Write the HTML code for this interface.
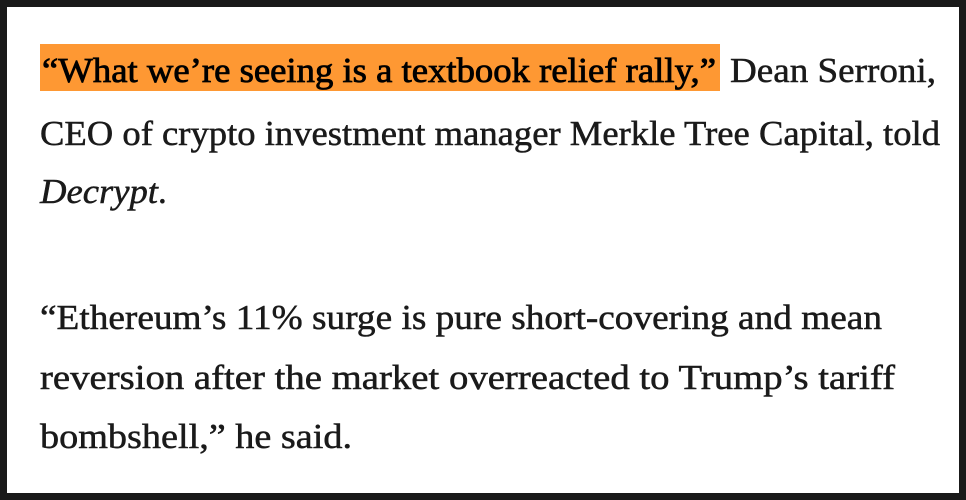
<!DOCTYPE html>
<html><head><style>
html,body{margin:0;padding:0;background:#1a1a1a;}
.f{position:absolute;left:7px;top:7px;width:952px;height:486px;background:#fff;}
svg{position:absolute;left:0;top:0;}
text{font-family:"Liberation Serif",serif;font-size:35px;fill:#1a1a1a;stroke:#1a1a1a;stroke-width:0.5px;}
</style></head><body>
<div class="f"></div>
<svg width="966" height="500">
<rect x="40" y="44" width="680" height="47" fill="#fe9833"/>
<text x="42" y="82" textLength="674" lengthAdjust="spacingAndGlyphs" style="fill:#000;stroke:#000;stroke-width:0.8px">“What we’re seeing is a textbook relief rally,”</text>
<text x="730" y="82" textLength="206" lengthAdjust="spacingAndGlyphs">Dean Serroni,</text>
<text x="40" y="145" textLength="900" lengthAdjust="spacingAndGlyphs">CEO of crypto investment manager Merkle Tree Capital, told</text>
<text x="40" y="203" textLength="118" lengthAdjust="spacingAndGlyphs" font-style="italic">Decrypt</text>
<text x="158" y="203">.</text>
<text x="40" y="329" textLength="842" lengthAdjust="spacingAndGlyphs">“Ethereum’s 11% surge is pure short-covering and mean</text>
<text x="40" y="389" textLength="855" lengthAdjust="spacingAndGlyphs">reversion after the market overreacted to Trump’s tariff</text>
<text x="40" y="448" textLength="312" lengthAdjust="spacingAndGlyphs">bombshell,” he said.</text>
</svg>
</body></html>
